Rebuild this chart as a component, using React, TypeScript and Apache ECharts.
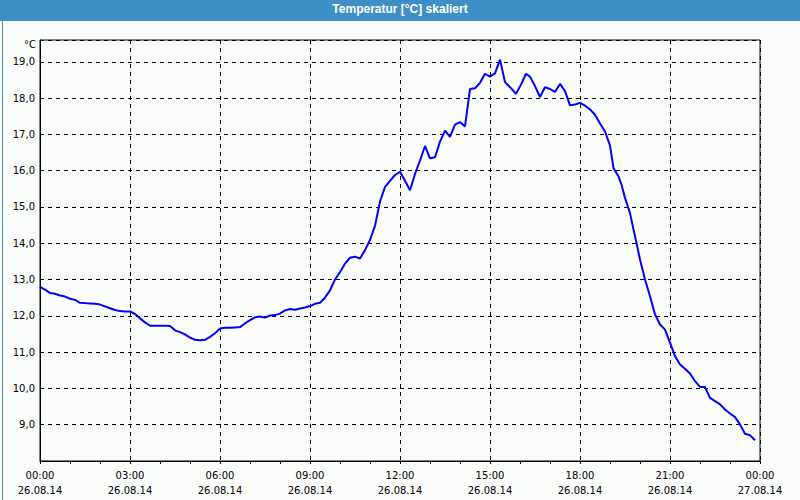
import React, { useEffect, useRef } from "react";
import * as echarts from "echarts";

// time in minutes since 26.08.14 00:00
const times: number[] = [
  0, 10, 20, 30, 40, 50, 60, 70, 80, 90, 100, 110, 120, 130, 140, 150, 160, 170, 180, 190,
  200, 210, 220, 230, 240, 250, 260, 270, 280, 290, 300, 310, 320, 330, 340, 350, 360, 370, 380, 390,
  400, 410, 420, 430, 440, 450, 460, 470, 480, 490, 500, 510, 520, 530, 540, 550, 560, 570, 580, 590,
  600, 610, 620, 630, 640, 650, 660, 670, 680, 690, 700, 710, 720, 730, 740, 750, 760, 770, 780, 790,
  800, 810, 820, 830, 840, 850, 860, 870, 880, 890, 900, 910, 920, 930, 940, 952, 962, 972, 980, 990,
  1000, 1010, 1020, 1030, 1040, 1050, 1060, 1070, 1080, 1090, 1100, 1110, 1120, 1130, 1140, 1147, 1157, 1163, 1170, 1180,
  1187, 1193, 1200, 1210, 1220, 1230, 1240, 1250, 1260, 1270, 1280, 1290, 1300, 1310, 1320, 1330, 1340, 1350, 1360, 1370,
  1380, 1390, 1400, 1410, 1420, 1430,
];

const temps: number[] = [
  12.8, 12.72, 12.63, 12.61, 12.56, 12.53, 12.47, 12.44, 12.36, 12.35, 12.34, 12.33, 12.31, 12.26, 12.21, 12.16, 12.13, 12.12, 12.12, 12.05,
  11.93, 11.82, 11.73, 11.73, 11.73, 11.73, 11.72, 11.6, 11.55, 11.49, 11.4, 11.34, 11.33, 11.34, 11.42, 11.52, 11.65, 11.67, 11.67, 11.68,
  11.69, 11.79, 11.88, 11.96, 11.98, 11.95, 12.01, 12.02, 12.06, 12.15, 12.19, 12.17, 12.2, 12.23, 12.27, 12.33, 12.36, 12.5, 12.7, 13.0,
  13.2, 13.44, 13.6, 13.63, 13.58, 13.81, 14.09, 14.48, 15.15, 15.55, 15.72, 15.88, 15.97, 15.72, 15.46, 15.91, 16.28, 16.68, 16.34, 16.37,
  16.8, 17.1, 16.93, 17.27, 17.34, 17.22, 18.25, 18.27, 18.42, 18.67, 18.59, 18.68, 19.06, 18.44, 18.3, 18.12, 18.37, 18.67, 18.59, 18.33,
  18.03, 18.3, 18.25, 18.17, 18.39, 18.19, 17.8, 17.82, 17.87, 17.79, 17.69, 17.54, 17.3, 17.08, 16.69, 16.07, 15.84, 15.61, 15.25, 14.83,
  14.38, 14.01, 13.55, 13.0, 12.54, 12.04, 11.76, 11.62, 11.26, 10.89, 10.66, 10.54, 10.41, 10.2, 10.04, 10.04, 9.74, 9.65, 9.56, 9.42,
  9.31, 9.21, 9.01, 8.75, 8.71, 8.57,
];

const xTickLabels: string[] = [
  "00:00\n26.08.14", "03:00\n26.08.14", "06:00\n26.08.14", "09:00\n26.08.14", "12:00\n26.08.14",
  "15:00\n26.08.14", "18:00\n26.08.14", "21:00\n26.08.14", "00:00\n27.08.14",
];

const yTickValues: number[] = [9, 10, 11, 12, 13, 14, 15, 16, 17, 18, 19];

const titleText = "Temperatur [°C] skaliert";
const unitText = "°C";

export default function App() {
  const ref = useRef<HTMLDivElement>(null);
  useEffect(() => {
    if (!ref.current) return;
    const chart = echarts.init(ref.current, null, { renderer: "svg" });
    const font = "DejaVu Sans";
    chart.setOption({
      animation: false,
      backgroundColor: "#fbfdfb",
      graphic: [
        { type: "rect", left: 0, top: 0, shape: { width: 800, height: 21 }, style: { fill: "#3d8fc6" }, silent: true },
        { type: "rect", left: 0, top: 0, shape: { width: 799, height: 499 }, style: { fill: "none", stroke: "#3d8fc6", lineWidth: 1 }, silent: true },
        {
          type: "text", left: "center", top: 3,
          style: { text: titleText, fill: "#ffffff", font: "bold 12px 'Liberation Sans'" },
        },
        {
          type: "text", left: 24, top: 39,
          style: { text: unitText, fill: "#000", font: `10px '${font}'` },
        },
      ],
      grid: { left: 40, top: 40, right: 40, bottom: 39, show: true, borderColor: "#000", borderWidth: 1, backgroundColor: "transparent" },
      xAxis: {
        type: "value", min: 0, max: 1440, interval: 180,
        axisLine: { show: true, lineStyle: { color: "#000", width: 1 } },
        axisTick: { show: true, length: 3, lineStyle: { color: "#000" } },
        minorTick: { show: true, splitNumber: 3, length: 3, lineStyle: { color: "#000" } },
        splitLine: { show: true, lineStyle: { color: "#000", type: [4, 4], width: 1 } },
        axisLabel: {
          margin: 7, color: "#000", fontFamily: font, fontSize: 10, lineHeight: 15,
          formatter: (v: number) => xTickLabels[Math.round(v / 180)] ?? "",
        },
      },
      yAxis: {
        type: "value", min: 8, max: 19.6, interval: 1,
        axisLine: { show: true, lineStyle: { color: "#000", width: 1 } },
        axisTick: { show: false },
        splitLine: { show: true, lineStyle: { color: "#000", type: [4, 4], width: 1 } },
        axisLabel: {
          margin: 5, color: "#000", fontFamily: font, fontSize: 10,
          showMaxLabel: false,
          formatter: (v: number) => (yTickValues.includes(Math.round(v * 100) / 100) ? v.toFixed(1).replace(".", ",") : ""),
        },
      },
      series: [
        {
          type: "line",
          data: times.map((t, i) => [t, temps[i]]),
          showSymbol: false,
          symbol: "none",
          lineStyle: { color: "#0000ff", width: 2 },
        },
      ],
    });
    return () => chart.dispose();
  }, []);
  return <div ref={ref} style={{ position: "fixed", left: 0, top: 0, width: 800, height: 500 }} />;
}
